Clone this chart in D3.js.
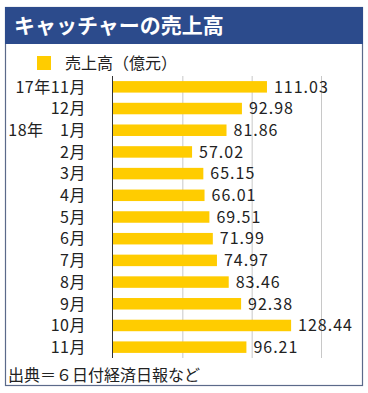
<!DOCTYPE html>
<meta charset="utf-8">
<style>
  body { margin: 0; background: #fff; }
  text { font-family: "Noto Sans CJK JP", "Noto Sans", sans-serif; }
</style>
<body>
<script src="https://cdn.jsdelivr.net/npm/d3@7"></script>
<script>

    var width = 368,
        height = 393;

    // 月別の売上高（億元）
    var categories = ["17年11月", "12月", "18年\u30001月", "2月", "3月", "4月", "5月",
                      "6月", "7月", "8月", "9月", "10月", "11月"];
    var values = [111.03, 92.98, 81.86, 57.02, 65.15, 66.01, 69.51,
                  71.99, 74.97, 83.46, 92.38, 128.44, 96.21];
    var gridTicks = [50, 100, 150];

    var titleText = "キャッチャーの売上高";
    var legendText = "売上高（億元）";
    var sourceText = "出典＝６日付経済日報など";

    var svg = d3.select("body").append("svg")
            .attr("width", width)
            .attr("height", height);

    var x = d3.scaleLinear()
            .domain([0, 150])
            .range([113, 321]);

    var y = d3.scaleBand()
            .domain(categories)
            .range([76, 358])
            .paddingInner(0.47)
            .paddingOuter(0.235);

    // 枠と見出し
    svg.append("rect")
            .attr("x", 5.5).attr("y", 7.5)
            .attr("width", 357).attr("height", 378)
            .attr("fill", "#fff")
            .attr("stroke", "#5b6a8a")
            .attr("stroke-width", 1.2);

    svg.append("rect")
            .attr("x", 5).attr("y", 7)
            .attr("width", 358).attr("height", 37)
            .attr("fill", "#2c4b8c");

    svg.append("text")
            .attr("x", 14).attr("y", 33)
            .attr("fill", "#fff")
            .attr("font-size", 21)
            .attr("font-weight", "bold")
            .text(titleText);

    // 凡例
    svg.append("rect")
            .attr("x", 37).attr("y", 56)
            .attr("width", 14).attr("height", 14)
            .attr("fill", "#ffcc00");

    svg.append("text")
            .attr("x", 65).attr("y", 69)
            .attr("font-size", 16)
            .attr("fill", "#222")
            .text(legendText);

    // 目盛り線
    svg.selectAll(".grid")
            .data(gridTicks)
            .enter().append("line")
            .attr("x1", function(d) { return x(d) + 0.5; })
            .attr("x2", function(d) { return x(d) + 0.5; })
            .attr("y1", y.range()[0])
            .attr("y2", y.range()[1])
            .attr("stroke", "#c8c8c8")
            .attr("stroke-width", 1);

    // 棒
    svg.selectAll(".bar")
            .data(values)
            .enter().append("rect")
            .attr("x", x(0))
            .attr("y", function(d, i) { return y(categories[i]); })
            .attr("width", function(d) { return x(d) - x(0); })
            .attr("height", y.bandwidth())
            .attr("fill", "#ffcc00");

    // 軸線
    svg.append("line")
            .attr("x1", x(0) - 0.5).attr("x2", x(0) - 0.5)
            .attr("y1", y.range()[0]).attr("y2", y.range()[1])
            .attr("stroke", "#333")
            .attr("stroke-width", 1);

    // 項目名
    svg.selectAll(".cat")
            .data(categories)
            .enter().append("text")
            .attr("x", 86)
            .attr("y", function(d) { return y(d) + y.bandwidth() / 2; })
            .attr("dy", "0.36em")
            .attr("text-anchor", "end")
            .attr("font-size", 16)
            .attr("letter-spacing", 0.5)
            .attr("fill", "#222")
            .text(function(d) { return d; });

    // 数値
    svg.selectAll(".val")
            .data(values)
            .enter().append("text")
            .attr("x", function(d) { return x(d) + 7; })
            .attr("y", function(d, i) { return y(categories[i]) + y.bandwidth() / 2; })
            .attr("dy", "0.36em")
            .attr("font-size", 16)
            .attr("letter-spacing", 1)
            .attr("fill", "#222")
            .text(function(d) { return d.toFixed(2); });

    // 出典
    svg.append("text")
            .attr("x", 8).attr("y", 381)
            .attr("font-size", 16)
            .attr("fill", "#222")
            .text(sourceText);

</script>
